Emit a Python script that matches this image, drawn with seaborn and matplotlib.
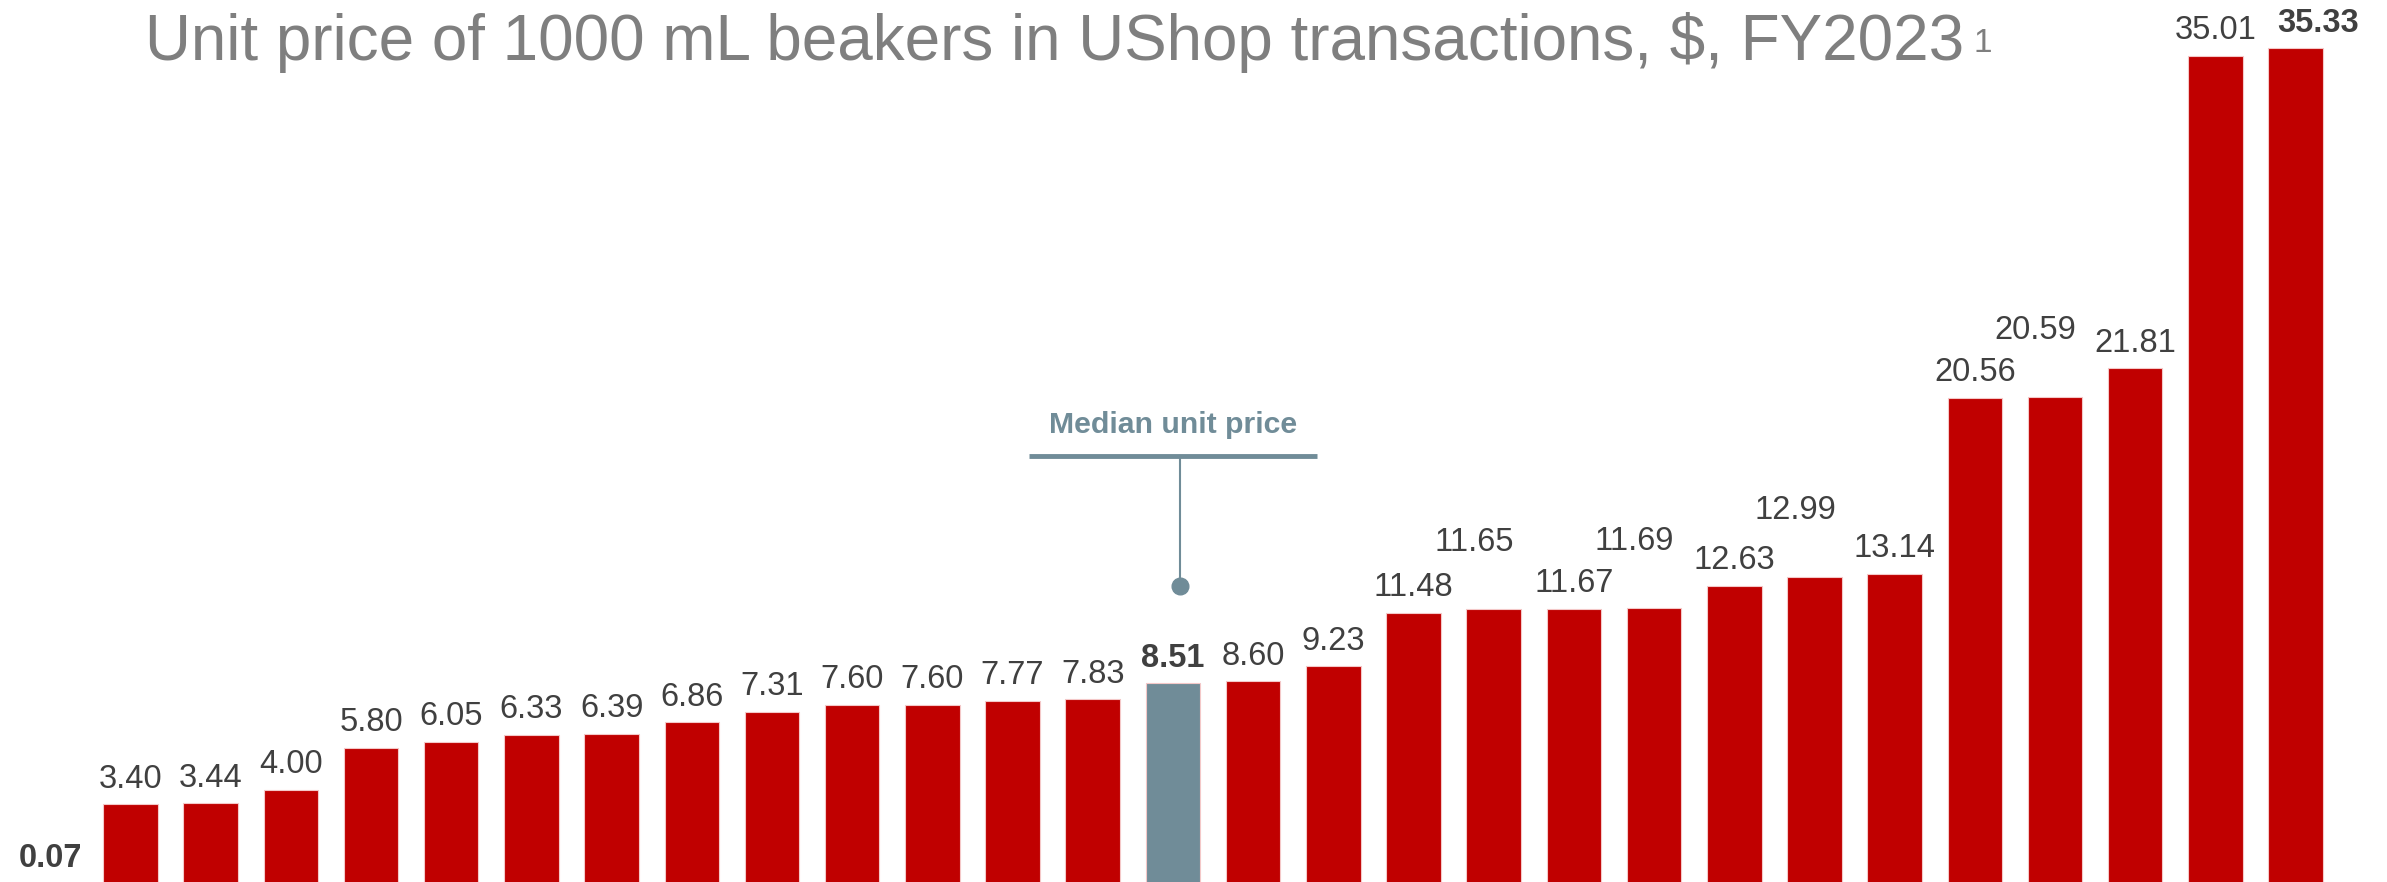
import matplotlib
matplotlib.use('Agg')
import matplotlib.pyplot as plt
import seaborn as sns
import pandas as pd
import numpy as np

# Data
prices = [0.07, 3.40, 3.44, 4.00, 5.80, 6.05, 6.33, 6.39, 6.86, 7.31, 7.60, 7.60,
          7.77, 7.83, 8.51, 8.60, 9.23, 11.48, 11.65, 11.67, 11.69, 12.63, 12.99,
          13.14, 20.56, 20.59, 21.81, 35.01, 35.33]
median_idx = 14
bold_idx = [0, 14, 28]
raised_idx = [18, 20, 22, 25]  # labels lifted to avoid overlapping
title = 'Unit price of 1000 mL beakers in UShop transactions, $, FY2023'
footnote = '1'
median_label = 'Median unit price'

RED = '#C00000'
SLATE = '#708C98'
DARK = '#404040'
GREY = '#7F7F7F'

sns.set_theme(style='white')
plt.rcParams['font.family'] = ['Liberation Sans', 'DejaVu Sans']

df = pd.DataFrame({
    'idx': range(len(prices)),
    'price': prices,
    'group': ['median' if i == median_idx else 'other' for i in range(len(prices))],
})

fig = plt.figure(figsize=(23.87, 8.82), dpi=100)
ax = fig.add_axes([0, 0, 1, 1])
sns.barplot(data=df, x='idx', y='price', hue='group',
            palette={'median': SLATE, 'other': RED}, dodge=False, saturation=1,
            width=0.68, legend=False, ax=ax, edgecolor='#F4C8C8', linewidth=0.8)

# baseline sits just below the bottom edge, as in the original slide
ax.set_xlim(-0.627, 29.14)
ax.set_ylim(0.12, 37.37)
ax.axis('off')

# Value labels
for i, v in enumerate(prices):
    if i in raised_idx:
        offset = (-14, 42)
    elif i == len(prices) - 1:
        offset = (16, 12)
    else:
        offset = (0, 12)
    ax.annotate(f'{v:.2f}', xy=(i, v), xytext=offset, textcoords='offset points',
                ha='center', va='baseline', fontsize=23.5, color=DARK,
                fontweight='bold' if i in bold_idx else 'normal',
                annotation_clip=False)

# Median call-out
xm = median_idx + 0.09
ax.plot([xm, xm], [12.63, 18.12], color=SLATE, lw=1.5, zorder=3)
ax.plot([xm], [12.63], 'o', color=SLATE, ms=12, zorder=4)
ax.plot([median_idx - 1.8, median_idx + 1.8], [18.12, 18.12], color=SLATE, lw=3.5,
        solid_capstyle='butt')
ax.text(median_idx, 19.09, median_label, ha='center', va='baseline',
        fontsize=21.8, fontweight='bold', color=SLATE)

# Title with superscript footnote
t = fig.text(145 / 2387, 1 - 60 / 882, title, fontsize=47, color=GREY,
             va='baseline', ha='left')
fig.canvas.draw()
w = t.get_window_extent().width
t.set_fontsize(47 * 1818 / w)
fig.canvas.draw()
bb = t.get_window_extent()
fig.text((bb.x1 + 9) / fig.bbox.width, 1 - 52 / 882, footnote, fontsize=24,
         color=GREY, va='baseline', ha='left')

fig.savefig('out.png', dpi=100)
